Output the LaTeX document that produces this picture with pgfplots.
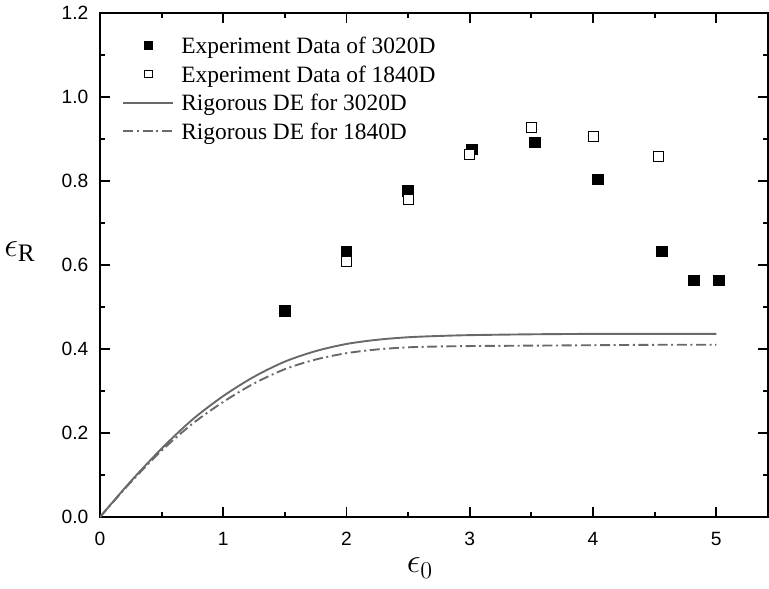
\documentclass[border=0pt]{standalone}
\usepackage{fontspec}
\setmainfont{Liberation Serif}
\newfontfamily\arial{Liberation Sans}
\usepackage{pgfplots}
\pgfplotsset{compat=1.18}
\definecolor{curvegray}{RGB}{105,105,105}
\pgfplotsset{
  markleg/.style={legend image code/.code={\draw[##1, mark size=1.9pt] plot coordinates {(12.5pt,0pt)};}},
  lineleg/.style={legend image code/.code={\draw[##1] (0pt,0pt) -- (25pt,0pt);}},
}
\begin{document}
\begin{tikzpicture}
\begin{axis}[
  scale only axis,
  width=334pt, height=252pt,
  xmin=0, xmax=5.42, ymin=0, ymax=1.2,
  xtick={0,1,2,3,4,5},
  ytick={0,0.2,0.4,0.6,0.8,1.0,1.2},
  minor xtick={0.5,1.5,2.5,3.5,4.5},
  minor ytick={0.1,0.3,0.5,0.7,0.9,1.1},
  tick align=inside,
  major tick length=5pt,
  minor tick length=2.6pt,
  axis line style={line width=1pt},
  every tick/.style={black, line width=0.9pt},
  tick label style={font=\arial\fontsize{9.6}{11}\selectfont},
  /pgf/number format/assume math mode=true,
  yticklabel style={xshift=-2.3pt, /pgf/number format/.cd, fixed, fixed zerofill, precision=1},
  xticklabel style={yshift=-4pt, /pgf/number format/.cd, fixed, precision=0},
  xlabel={$\epsilon_0$},
  ylabel={$\epsilon_{\mathrm{R}}$},
  label style={font=\fontsize{18}{20}\selectfont},
  xlabel style={at={(axis description cs:0.479,0)}, anchor=center, yshift=-25.5pt},
  ylabel style={rotate=-90, at={(axis description cs:0,0.526)}, anchor=center, xshift=-40pt},
  legend style={draw=none, fill=none, at={(axis description cs:0.033,0.9603)}, anchor=north west,
    font=\fontsize{11.7}{14}\selectfont, inner sep=0pt, row sep=2.3pt,
    nodes={inner sep=0pt, text height=10pt, text depth=2pt},
    /tikz/every odd column/.append style={column sep=3.5pt}},
  legend cell align=left,
]
\addplot[only marks, mark=square*, mark size=2.65pt, mark options={fill=black, draw=black}, markleg] coordinates {
(1.5,0.491) (2.0,0.632) (2.5,0.777) (3.017,0.875) (3.53,0.892) (4.04,0.804) (4.56,0.632) (4.82,0.563) (5.02,0.563)
};
\addlegendentry{Experiment Data of 3020D}
\addplot[only marks, mark=square*, mark size=2.5pt, mark options={fill=white, draw=black, line width=0.5pt}, markleg] coordinates {
(2.0,0.608) (2.5,0.755) (3.0,0.863) (3.5,0.928) (4.0,0.906) (4.53,0.859)
};
\addlegendentry{Experiment Data of 1840D}
\addplot[curvegray, line width=0.95pt, smooth, lineleg] coordinates {
(0,0) (0.25,0.085) (0.5,0.163) (0.75,0.232) (1.0,0.288) (1.25,0.334) (1.5,0.370) (1.75,0.395) (2.0,0.412) (2.25,0.422) (2.5,0.428) (2.75,0.431) (3.0,0.433) (3.5,0.435) (4.0,0.436) (4.5,0.436) (5.0,0.436)
};
\addlegendentry{Rigorous DE for 3020D}
\addplot[curvegray, line width=0.95pt, smooth, dash pattern=on 5pt off 1.8pt on 1pt off 1.8pt, lineleg] coordinates {
(0,0) (0.25,0.083) (0.5,0.158) (0.75,0.222) (1.0,0.274) (1.25,0.318) (1.5,0.352) (1.75,0.375) (2.0,0.390) (2.25,0.399) (2.5,0.404) (2.75,0.406) (3.0,0.407) (3.5,0.408) (4.0,0.409) (4.5,0.410) (5.0,0.410)
};
\addlegendentry{Rigorous DE for 1840D}
\end{axis}
\pgfresetboundingbox
\path[use as bounding box] (-50pt,-35.5pt) rectangle (334.5pt,258.5pt);
\end{tikzpicture}
\end{document}
